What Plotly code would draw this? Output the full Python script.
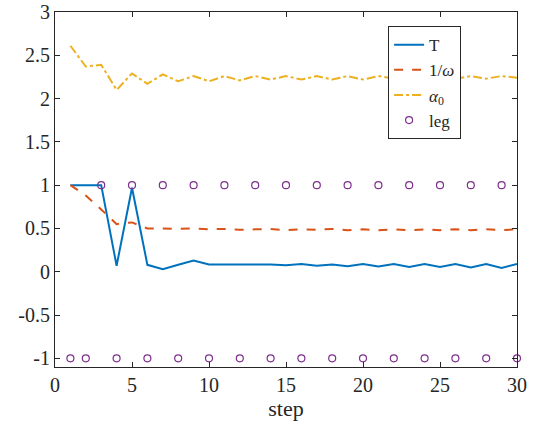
import plotly.graph_objects as go

steps = list(range(1, 31))
T_vals = [1.0, 1.0, 1.0, 0.07, 0.97, 0.08, 0.03, 0.08, 0.13, 0.085,
          0.087, 0.087, 0.087, 0.085, 0.075, 0.09, 0.07, 0.085, 0.065, 0.09,
          0.06, 0.09, 0.055, 0.09, 0.055, 0.09, 0.05, 0.09, 0.045, 0.09]
inv_omega = [1.0, 0.88, 0.72, 0.55, 0.57, 0.5, 0.5, 0.495, 0.5, 0.49,
             0.495, 0.485, 0.49, 0.495, 0.48, 0.49, 0.485, 0.495, 0.48, 0.49,
             0.48, 0.49, 0.48, 0.49, 0.48, 0.49, 0.48, 0.49, 0.48, 0.49]
alpha0 = [2.61, 2.37, 2.39, 2.10, 2.29, 2.17, 2.28, 2.20, 2.26, 2.20,
          2.26, 2.21, 2.26, 2.22, 2.26, 2.22, 2.26, 2.22, 2.26, 2.22,
          2.26, 2.23, 2.26, 2.23, 2.26, 2.23, 2.26, 2.23, 2.26, 2.24]
leg = [-1, -1, 1, -1, 1, -1, 1, -1, 1, -1,
       1, -1, 1, -1, 1, -1, 1, -1, 1, -1,
       1, -1, 1, -1, 1, -1, 1, -1, 1, -1]

x_ticks = [0, 5, 10, 15, 20, 25, 30]
y_ticks = [-1, -0.5, 0, 0.5, 1, 1.5, 2, 2.5, 3]
y_tick_labels = ["-1", "-0.5", "0", "0.5", "1", "1.5", "2", "2.5", "3"]

FONT = "Times New Roman"

fig = go.Figure()
fig.add_trace(go.Scatter(x=steps, y=T_vals, mode="lines", name="T",
                         line=dict(color="#0072BD", width=2)))
fig.add_trace(go.Scatter(x=steps, y=inv_omega, mode="lines", name="1/<i>ω</i>",
                         line=dict(color="#D95319", width=2, dash="dash")))
fig.add_trace(go.Scatter(x=steps, y=alpha0, mode="lines", name="<i>α</i><sub>0</sub>",
                         line=dict(color="#EDB120", width=2, dash="dashdot")))
fig.add_trace(go.Scatter(x=steps, y=leg, mode="markers", name="leg", cliponaxis=False,
                         marker=dict(symbol="circle-open", color="#7E2F8E", size=7,
                                     line=dict(width=1.2))))

axis_common = dict(showgrid=False, zeroline=False, showline=True, linecolor="#262626",
                   linewidth=1, mirror="ticks", ticks="inside", ticklen=5,
                   tickcolor="#262626", automargin=False, ticklabeloverflow="allow",
                   tickfont=dict(family=FONT, size=20, color="#262626"))

fig.update_layout(
    width=540, height=434,
    margin=dict(l=55, r=23, t=12, b=67),
    paper_bgcolor="white", plot_bgcolor="white",
    font=dict(family=FONT, color="#262626"),
    xaxis=dict(range=[0, 30], tickvals=x_ticks,
               title=dict(text="step", font=dict(family=FONT, size=22), standoff=2),
               **axis_common),
    yaxis=dict(range=[-1.1, 3], tickvals=y_ticks, ticktext=y_tick_labels, **axis_common),
    legend=dict(x=0.721, y=0.96, xanchor="left", yanchor="top",
                bgcolor="white", bordercolor="#262626", borderwidth=1,
                font=dict(family=FONT, size=17, color="#262626"),
                tracegroupgap=0, itemwidth=30),
)

fig.write_html("out.html", config={"displayModeBar": False},
               post_script="document.body.style.margin='0';")
